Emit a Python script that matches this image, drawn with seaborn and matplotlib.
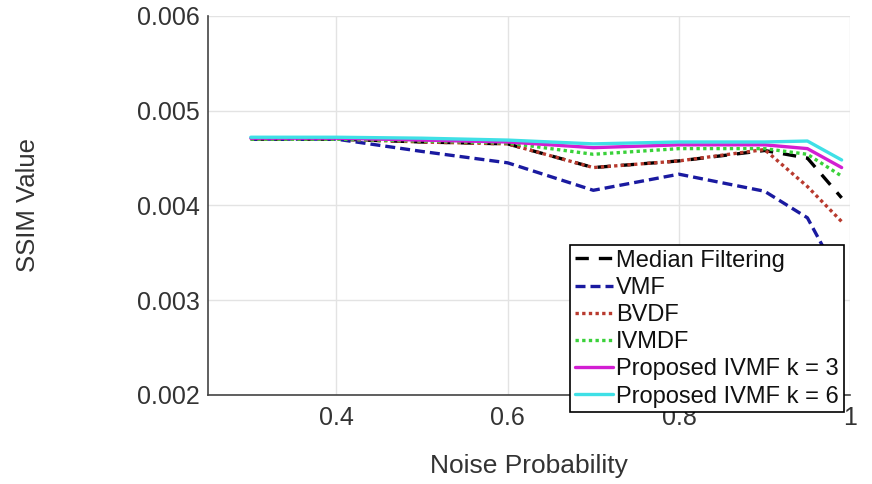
import matplotlib
matplotlib.use("Agg")
import matplotlib.pyplot as plt
import seaborn as sns
import pandas as pd

noise = [0.3, 0.4, 0.5, 0.6, 0.7, 0.8, 0.9, 0.95, 0.99]

median_filtering = [0.00470, 0.00470, 0.00467, 0.00465, 0.00440, 0.00447, 0.00458, 0.00450, 0.00408]
vmf = [0.00470, 0.00470, 0.00457, 0.00445, 0.00416, 0.00433, 0.00415, 0.00387, 0.00320]
bvdf = [0.00470, 0.00470, 0.00467, 0.00465, 0.00440, 0.00447, 0.00459, 0.00420, 0.00383]
ivmdf = [0.00470, 0.00470, 0.00468, 0.00466, 0.00454, 0.00460, 0.00460, 0.00454, 0.00431]
ivmf_k3 = [0.00471, 0.00471, 0.00469, 0.00467, 0.00461, 0.00464, 0.00464, 0.00460, 0.00440]
ivmf_k6 = [0.00472, 0.00472, 0.00471, 0.00469, 0.00465, 0.00467, 0.00467, 0.00468, 0.00448]

series = [
    ("Median Filtering", median_filtering, "black", (0, (4, 3))),
    ("VMF", vmf, "#1a1aa0", (0, (3, 1.5))),
    ("BVDF", bvdf, "#b83a2e", (0, (1, 1))),
    ("IVMDF", ivmdf, "#3ad13a", (0, (1, 1))),
    ("Proposed IVMF k = 3", ivmf_k3, "#d21ed2", "-"),
    ("Proposed IVMF k = 6", ivmf_k6, "#3fe0e6", "-"),
]

sns.set_theme(style="whitegrid")
plt.rcParams['font.family'] = ['Liberation Sans', 'DejaVu Sans']

fig = plt.figure(figsize=(8.72, 4.84), dpi=100)
ax = fig.add_axes([0.2385, 0.184, 0.7365, 0.783])

for name, vals, color, ls in series:
    df = pd.DataFrame({"noise": noise, "ssim": vals})
    sns.lineplot(data=df, x="noise", y="ssim", ax=ax, color=color,
                 linestyle=ls, linewidth=2.4, label=name)

ax.set_xlim(0.25, 1.0)
ax.set_ylim(0.002, 0.006)
ax.set_xticks([0.4, 0.6, 0.8, 1.0])
ax.set_xticklabels(["0.4", "0.6", "0.8", "1"])
ax.set_yticks([0.002, 0.003, 0.004, 0.005, 0.006])
ax.set_yticklabels(["0.002", "0.003", "0.004", "0.005", "0.006"])
ax.tick_params(axis="both", direction="in", length=4, labelsize=18, colors="#333333")
ax.tick_params(axis="x", pad=8)
ax.tick_params(axis="y", pad=6)
ax.grid(True, color="#e3e3e3", linewidth=1)
ax.set_facecolor("white")
for s in ["top", "right"]:
    ax.spines[s].set_visible(False)
for s in ["left", "bottom"]:
    ax.spines[s].set_color("#444444")
    ax.spines[s].set_linewidth(1.2)

ax.set_xlabel("Noise Probability", fontsize=19, color="#333333", labelpad=17)
ax.set_ylabel("SSIM Value", fontsize=18.5, color="#333333", labelpad=70)

leg = ax.legend(loc="upper left", bbox_to_anchor=(0.564, 0.396), borderaxespad=0,
                fontsize=17, frameon=True, fancybox=False, framealpha=1,
                handlelength=1.6, handletextpad=0.15, labelspacing=0.22,
                borderpad=0.2)
leg.get_frame().set_edgecolor("black")
leg.get_frame().set_linewidth(1.2)
for t in leg.get_texts():
    t.set_color("#111111")

fig.savefig("out.png", dpi=100, facecolor="white")
